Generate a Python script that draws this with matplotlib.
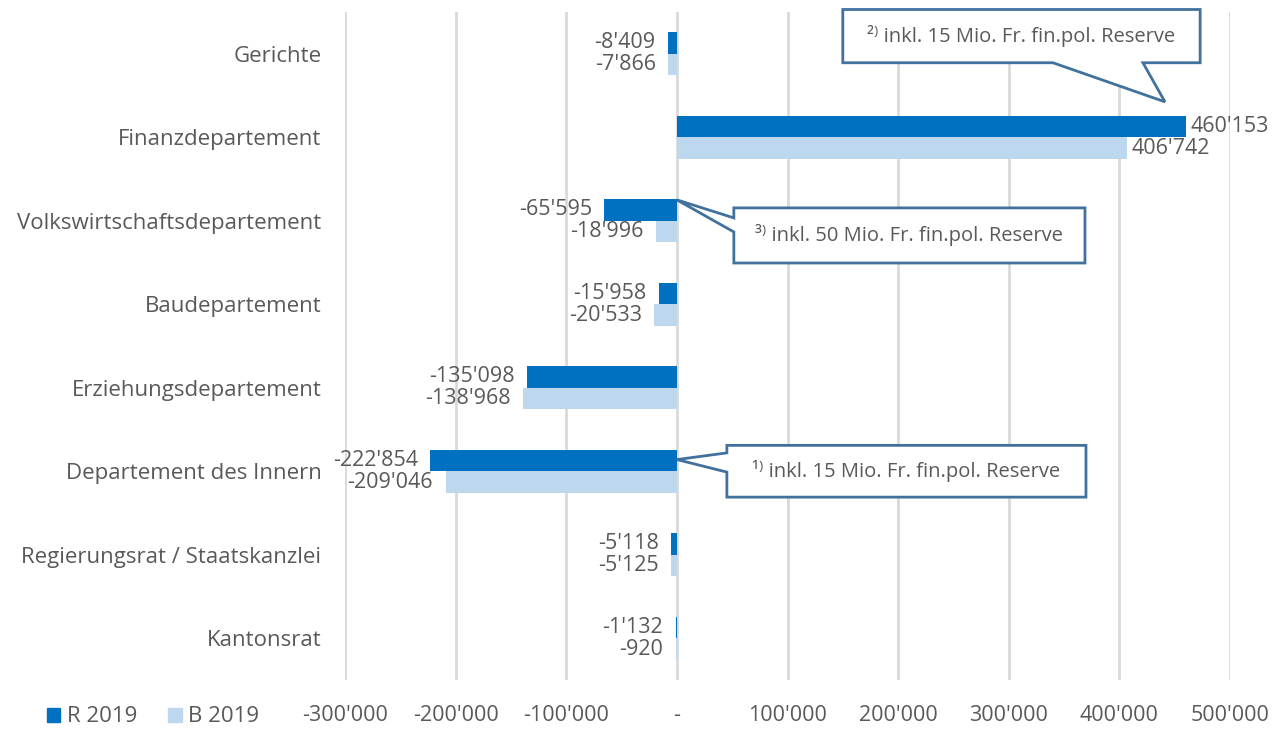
import matplotlib
matplotlib.use("Agg")
import matplotlib.pyplot as plt
from matplotlib.patches import Polygon, Patch
from matplotlib.ticker import FuncFormatter
import numpy as np

categories = ["Gerichte", "Finanzdepartement", "Volkswirtschaftsdepartement",
              "Baudepartement", "Erziehungsdepartement", "Departement des Innern",
              "Regierungsrat / Staatskanzlei", "Kantonsrat"]
r2019 = [-8409, 460153, -65595, -15958, -135098, -222854, -5118, -1132]
b2019 = [-7866, 406742, -18996, -20533, -138968, -209046, -5125, -920]
xticks = [-300000, -200000, -100000, 0, 100000, 200000, 300000, 400000, 500000]

C_R = "#0070C0"
C_B = "#BDD7EE"
TXT = "#595959"
GRID = "#D9D9D9"
BOX = "#41719C"
FONT = ["Open Sans", "DejaVu Sans"]

plt.rcParams['font.family'] = FONT

fig = plt.figure(figsize=(12.88, 7.29), dpi=100)
ax = fig.add_axes([345/1288, 1-680/729, (1230-345)/1288, (680-12)/729])

y = np.arange(len(categories))
h = 0.26
ax.barh(y - h/2, r2019, height=h, color=C_R, zorder=3)
ax.barh(y + h/2, b2019, height=h, color=C_B, zorder=3)

def fmt(v):
    s = f"{abs(v):,}".replace(",", "'")
    return ("-" if v < 0 else "") + s

NUMFS = 15.5
for vals, off in ((r2019, -h/2), (b2019, h/2)):
    for i, v in enumerate(vals):
        if v < 0:
            ax.annotate(fmt(v), (v, i + off), xytext=(-9, 0), textcoords="offset points",
                        ha="right", va="center", fontsize=NUMFS, color=TXT, annotation_clip=False)
        else:
            ax.annotate(fmt(v), (v, i + off), xytext=(3, 0), textcoords="offset points",
                        ha="left", va="center", fontsize=NUMFS, color=TXT, annotation_clip=False)

ax.set_xlim(-300000, 500000)
ax.set_ylim(len(categories) - 0.5, -0.5)
ax.set_yticks(y)
ax.set_yticklabels(categories, fontsize=16, color=TXT)
ax.set_xticks(xticks)
ax.xaxis.set_major_formatter(FuncFormatter(lambda v, p: "-" if v == 0 else fmt(int(v))))
ax.tick_params(axis="x", length=0, pad=18, labelsize=NUMFS, labelcolor=TXT)
ax.tick_params(axis="y", length=0, pad=17)
for s in ax.spines.values():
    s.set_visible(False)
ax.grid(axis="x", color=GRID, linewidth=2, zorder=0)
ax.set_axisbelow(True)

def callout(verts, text, tx, ty, sup):
    poly = Polygon(verts, closed=True, facecolor="white", edgecolor=BOX,
                   linewidth=2, zorder=5, clip_on=False, joinstyle="miter")
    ax.add_patch(poly)
    ax.text(tx, ty, sup + " " + text, ha="center", va="center", fontsize=14.5,
            color=TXT, zorder=6, clip_on=False)

# 2) callout (pointer from bottom edge)
x0, x1, y0, y1 = 150000, 473000, -0.53, 0.108
callout([(x0, y0), (x1, y0), (x1, y1), (421300, y1), (441200, 0.576), (340000, y1), (x0, y1)],
        "inkl. 15 Mio. Fr. fin.pol. Reserve", (x0 + x1) / 2, (y0 + y1) / 2, "²⁾")

# 3) callout (pointer from left edge)
x0, x1, y0, y1 = 51500, 368900, 1.846, 2.506
callout([(x0, y0), (x1, y0), (x1, y1), (x0, y1), (x0, 2.134), (0, 1.75), (x0, 1.966)],
        "inkl. 50 Mio. Fr. fin.pol. Reserve", (x0 + x1) / 2, (y0 + y1) / 2, "³⁾")

# 1) callout
x0, x1, y0, y1 = 45200, 369800, 4.69, 5.31
callout([(x0, y0), (x1, y0), (x1, y1), (x0, y1), (x0, 5.01), (0, 4.86), (x0, 4.78)],
        "inkl. 15 Mio. Fr. fin.pol. Reserve", (x0 + x1) / 2, (y0 + y1) / 2, "¹⁾")

handles = [Patch(color=C_R, label="R 2019"), Patch(color=C_B, label="B 2019")]
fig.legend(handles=handles, loc="center left", bbox_to_anchor=(38/1288, 1-717/729),
           ncol=2, frameon=False, fontsize=16, handlelength=0.6, handleheight=0.6,
           handletextpad=0.3, columnspacing=1.4, labelcolor=TXT, borderaxespad=0)

fig.savefig("out.png", dpi=100)
